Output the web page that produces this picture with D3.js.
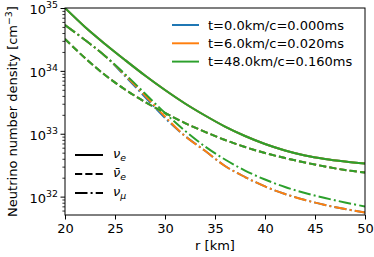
<!DOCTYPE html>
<html><head><meta charset="utf-8">
<script src="https://cdn.jsdelivr.net/npm/d3@7"></script>
<style>body{margin:0;background:#fff} text{font-family:"DejaVu Sans",sans-serif;fill:#000}</style>
</head><body><svg id="c" width="374" height="257"></svg>
<script>
// ---- data ----
const radius = [20,22,24,26,28,30,32,34,36,38,40,42,44,46,48,50];
const nuE    = [1.00e35,4.99e34,2.68e34,1.49e34,8.44e33,4.96e33,3.03e33,1.95e33,1.30e33,9.21e32,6.87e32,5.42e32,4.51e32,3.97e32,3.62e32,3.36e32];
const nuEbar = [3.21e34,1.60e34,8.59e33,5.06e33,3.20e33,2.14e33,1.48e33,1.07e33,7.96e32,6.15e32,4.94e32,4.11e32,3.49e32,3.01e32,2.65e32,2.42e32];
const nuMu_t0 = [5.37e34,3.10e34,1.73e34,8.28e33,3.84e33,1.78e33,9.21e32,5.36e32,3.07e32,2.05e32,1.45e32,1.10e32,8.83e31,7.36e31,6.35e31,5.60e31];
const nuMu_t1 = [5.37e34,3.10e34,1.73e34,8.59e33,4.06e33,1.88e33,9.21e32,5.36e32,3.07e32,2.05e32,1.45e32,1.10e32,8.83e31,7.36e31,6.35e31,5.60e31];
const nuMu_t2 = [5.37e34,3.10e34,1.73e34,8.91e33,4.37e33,2.14e33,1.11e33,6.27e32,3.89e32,2.60e32,1.87e32,1.42e32,1.14e32,9.51e31,8.07e31,6.97e31];
const timeLabels = ["t=0.0km/c=0.000ms","t=6.0km/c=0.020ms","t=48.0km/c=0.160ms"];
const xTicks = [20,25,30,35,40,45,50];
const yDecades = [32,33,34,35];

// ---- layout ----
const colors = ["#1f77b4","#ff7f0e","#2ca02c"];
const L=65,R=365,T=8,B=215, FS=13;
const svg = d3.select("#c");
const x = d3.scaleLinear([20,50],[L,R]);
const y = d3.scaleLog([5.1e31,1e35],[B,T]);
const styles = [null,"7.2,3.1","12.5,3.1,2,3.1"];

svg.append("clipPath").attr("id","clip").append("rect")
  .attr("x",L).attr("y",T).attr("width",R-L).attr("height",B-T);

const series = [
  [nuE,nuEbar,nuMu_t0],
  [nuE,nuEbar,nuMu_t1],
  [nuE,nuEbar,nuMu_t2]
];
const line = d3.line().x((d,i)=>x(radius[i])).y(d=>y(d)).curve(d3.curveCatmullRom.alpha(0.5));
const g = svg.append("g").attr("clip-path","url(#clip)");
series.forEach((sp,ti)=>{
  sp.forEach((vals,si)=>{
    g.append("path").attr("d",line(vals)).attr("fill","none")
     .attr("stroke",colors[ti]).attr("stroke-width",1.95)
     .attr("stroke-dasharray",styles[si]);
  });
});

// axes
const xa = svg.append("g").attr("transform",`translate(0,${B})`)
  .call(d3.axisBottom(x).tickValues(xTicks).tickSize(4.5).tickPadding(4).tickSizeOuter(0));
xa.select(".domain").remove();
xa.selectAll("text").attr("font-size",FS).style("font-family","DejaVu Sans");
xa.selectAll("line").attr("stroke-width",1);

const minor=[];
for(let e=31;e<35;e++) for(let k=2;k<10;k++){const v=k*Math.pow(10,e); if(v>=5.1e31&&v<=1e35) minor.push(v);}
const ym = svg.append("g").attr("transform",`translate(${L},0)`)
  .call(d3.axisLeft(y).tickValues(minor).tickSize(2.6).tickFormat(""));
ym.select(".domain").remove();
ym.selectAll("line").attr("stroke-width",0.8);
const yM = svg.append("g").attr("transform",`translate(${L},0)`)
  .call(d3.axisLeft(y).tickValues(yDecades.map(e=>Math.pow(10,e))).tickSize(4.5).tickFormat(""));
yM.select(".domain").remove();
yM.selectAll("line").attr("stroke-width",1);
yDecades.forEach(e=>{
  const t = svg.append("text").attr("x",L-7).attr("y",y(Math.pow(10,e))+6)
    .attr("text-anchor","end").attr("font-size",FS);
  t.append("tspan").text("10");
  t.append("tspan").attr("dy",-6).attr("font-size",FS*0.72).text(String(e));
});

svg.append("rect").attr("x",L).attr("y",T).attr("width",R-L).attr("height",B-T)
  .attr("fill","none").attr("stroke","#000").attr("stroke-width",1);

// axis labels
svg.append("text").attr("x",(L+R)/2).attr("y",250).attr("text-anchor","middle")
  .attr("font-size",FS).text("r [km]");
const yl = svg.append("text").attr("transform",`translate(17,${(T+B)/2}) rotate(-90)`)
  .attr("text-anchor","middle").attr("font-size",FS);
yl.append("tspan").text("Neutrino number density [cm");
yl.append("tspan").attr("dy",-5).attr("font-size",FS*0.72).text("\u22123");
yl.append("tspan").attr("dy",5).text("]");

// colour legend
timeLabels.forEach((lab,i)=>{
  const yy = 25 + i*18.3;
  svg.append("line").attr("x1",172).attr("x2",199).attr("y1",yy).attr("y2",yy)
    .attr("stroke",colors[i]).attr("stroke-width",1.95);
  svg.append("text").attr("x",208).attr("y",yy+4.5).attr("font-size",FS).text(lab);
});
// species legend
const spec = [["\u03bd","e"],["\u03bd\u0304","e"],["\u03bd","\u03bc"]];
spec.forEach((s,i)=>{
  const yy = 155 + i*19;
  svg.append("line").attr("x1",75).attr("x2",103).attr("y1",yy).attr("y2",yy)
    .attr("stroke","#000").attr("stroke-width",1.95).attr("stroke-dasharray",styles[i]);
  const t = svg.append("text").attr("x",113).attr("y",yy+3).attr("font-size",FS).attr("font-style","italic");
  t.append("tspan").text(s[0]);
  t.append("tspan").attr("dy",3).attr("font-size",FS*0.72).text(s[1]);
});
</script></body></html>
